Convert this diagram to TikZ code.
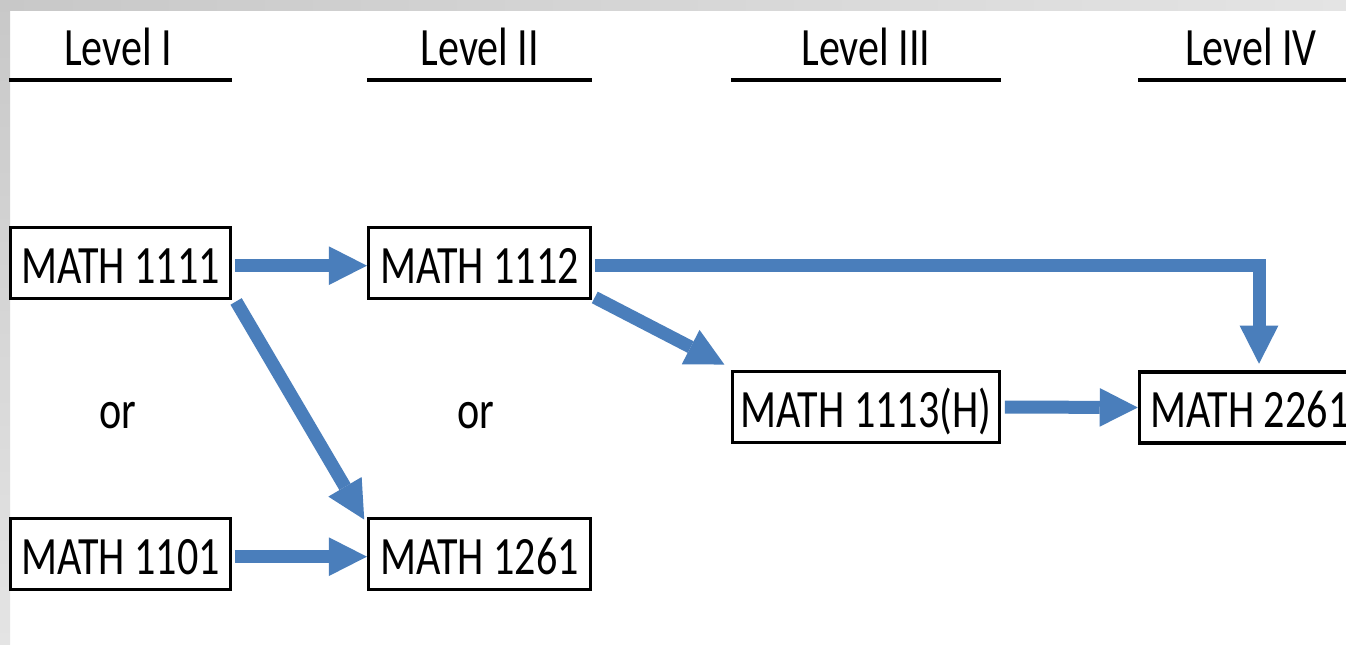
\documentclass[tikz,border=0pt]{standalone}
\usepackage{fontspec}
\setmainfont[FakeStretch=0.78]{Carlito}
\usetikzlibrary{arrows.meta}
\definecolor{arrowblue}{HTML}{4A7EBB}
\definecolor{bandgray}{HTML}{C8C8C8}
\definecolor{bandlight}{HTML}{E4E4E4}
\begin{document}
\begin{tikzpicture}[x=0.75pt,y=-0.75pt,
  txt/.style={font=\fontsize{40.5}{48}\selectfont, inner sep=0pt},
  course/.style={txt, draw=black, line width=2.4pt, minimum height=53.25pt,
    text height=30pt, text depth=0pt, fill=white},
  rule/.style={line width=2.4pt, black},
  arr/.style={draw=arrowblue, line width=9.75pt,
    -{Triangle[width=29pt,length=28.5pt,line width=0pt]}}]
\useasboundingbox (0,0) rectangle (1346,644);
\clip (0,0) rectangle (1346,644);
\fill[white] (0,0) rectangle (1346,644);
\shade[top color=bandgray, bottom color=bandlight] (0,0) rectangle (10,644);
\shade[left color=bandgray, right color=bandlight] (0,0) rectangle (1346,10);

% headers
\node[txt, anchor=base] (h1) at (118,65) {Level I};
\node[txt, anchor=base] (h2) at (480,65) {Level II};
\node[txt, anchor=base] (h3) at (866,65) {Level III};
\node[txt, anchor=base] (h4) at (1251,65) {Level IV};
\draw[rule] (9,80) -- (232,80);
\draw[rule] (367,80) -- (592,80);
\draw[rule] (731,80) -- (1001,80);
\draw[rule] (1138,80) -- (1346,80);

% courses
\node[course, minimum width=165pt] (m1111) at (120.5,263) {MATH 1111};
\node[course, minimum width=165pt] (m1101) at (120.5,554) {MATH 1101};
\node[course, minimum width=166.5pt] (m1112) at (479.5,263) {MATH 1112};
\node[course, minimum width=166.5pt] (m1261) at (479.5,554) {MATH 1261};
\node[course, minimum width=200pt] (m1113) at (866,407) {MATH 1113(H)};
\node[course, minimum width=166pt] (m2261) at (1250,407.5) {MATH 2261};

% or
\node[txt, anchor=base] (or1) at (118,428) {or};
\node[txt, anchor=base] (or2) at (476,428) {or};

% arrows
\draw[arr] ([xshift=2pt,yshift=-2pt]m1111.east) -- ([yshift=-2pt]m1112.west);
\draw[arr] ([xshift=2pt,yshift=-2pt]m1101.east) -- ([yshift=-2pt]m1261.west);
\draw[arr] ([xshift=3pt,yshift=-1pt]m1111.south east) -- ([xshift=-2pt,yshift=-2pt]m1261.north west);
\draw[arr] ([xshift=2pt,yshift=2pt]m1112.south east) -- ([xshift=-5pt,yshift=4pt]m1113.north west);
\draw[arr] ([xshift=2pt,yshift=-2pt]m1112.east) -| ([xshift=6.75pt,yshift=5pt]m2261.north);
\draw[arr] ([xshift=3pt]m1113.east) -- (m2261.west);
\end{tikzpicture}
\end{document}
